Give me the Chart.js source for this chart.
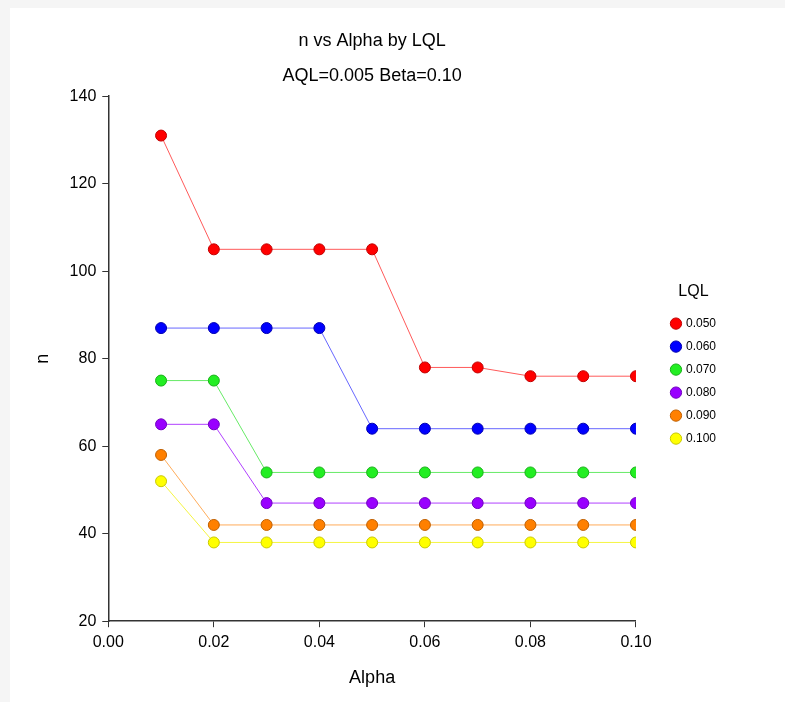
<!DOCTYPE html>
<html>
<head>
<meta charset="utf-8">
<script src="https://cdn.jsdelivr.net/npm/chart.js@4/dist/chart.umd.min.js"></script>
<style>
  html, body { margin: 0; padding: 0; background: #f5f5f5; }
  #panel { position: absolute; left: 10px; top: 8px; width: 775px; height: 694px; background: #fff; }
</style>
</head>
<body>
<div id="panel"><canvas id="myChart" width="775" height="694"></canvas></div>
<script>
const alphas = [0.01, 0.02, 0.03, 0.04, 0.05, 0.06, 0.07, 0.08, 0.09, 0.10];
const lqlLabels = ["0.050", "0.060", "0.070", "0.080", "0.090", "0.100"];
const n050 = [131, 105, 105, 105, 105, 78, 78, 76, 76, 76];
const n060 = [87, 87, 87, 87, 64, 64, 64, 64, 64, 64];
const n070 = [75, 75, 54, 54, 54, 54, 54, 54, 54, 54];
const n080 = [65, 65, 47, 47, 47, 47, 47, 47, 47, 47];
const n090 = [58, 42, 42, 42, 42, 42, 42, 42, 42, 42];
const n100 = [52, 38, 38, 38, 38, 38, 38, 38, 38, 38];
const seriesValues = [n050, n060, n070, n080, n090, n100];

const fills = ["#ff0000", "#0000ff", "#22ee22", "#9900ff", "#ff8000", "#ffff00"];
const edges = ["#c00000", "#0000b0", "#18b018", "#7000c0", "#c06000", "#c8c800"];
const lines = ["rgba(255,0,0,0.65)", "rgba(0,0,255,0.6)", "rgba(0,220,0,0.6)",
               "rgba(150,0,255,0.75)", "rgba(255,128,0,0.65)", "rgba(240,240,0,0.75)"];

const datasets = seriesValues.map(function (vals, i) {
  return {
    label: lqlLabels[i],
    data: vals.map(function (v, j) { return { x: alphas[j], y: v }; }),
    borderColor: lines[i],
    borderWidth: 1,
    pointBackgroundColor: fills[i],
    pointBorderColor: edges[i],
    pointBorderWidth: 1,
    pointRadius: 5.5,
    pointStyle: "circle",
    tension: 0
  };
});

// nudge the legend right and down
const shiftLegend = {
  id: "shiftLegend",
  afterLayout: function (chart) {
    if (chart.legend) {
      chart.legend.left += 25;
      chart.legend.right += 25;
      chart.legend.top += 14;
      chart.legend.bottom += 14;
    }
  }
};

const font = "Arial, 'Liberation Sans', sans-serif";
const ctx = document.getElementById("myChart");
const myChart = new Chart(ctx, {
  type: "line",
  data: { datasets: datasets },
  plugins: [shiftLegend],
  options: {
    responsive: false,
    animation: false,
    layout: { padding: { left: 10, right: 84, top: 10, bottom: 9 } },
    plugins: {
      title: {
        display: true, text: "n vs Alpha by LQL", color: "#000", fullSize: false,
        font: { family: font, size: 18, weight: "normal" },
        padding: { top: 12, bottom: 8 }
      },
      subtitle: {
        display: true, text: "AQL=0.005 Beta=0.10", color: "#000", fullSize: false,
        font: { family: font, size: 18, weight: "normal" },
        padding: { top: 6, bottom: 9 }
      },
      legend: {
        position: "right",
        align: "center",
        title: { display: true, text: "LQL", color: "#000", font: { family: font, size: 16 }, padding: { top: 0, bottom: 4 } },
        labels: {
          usePointStyle: true, boxWidth: 8, boxHeight: 8, padding: 11,
          color: "#000", font: { family: font, size: 12 }
        }
      },
      tooltip: { enabled: false }
    },
    scales: {
      x: {
        type: "linear", min: 0, max: 0.1,
        grid: { drawOnChartArea: false, tickLength: 6, color: "#333" },
        border: { color: "#333", width: 1.5 },
        ticks: {
          stepSize: 0.02, padding: 6, color: "#000",
          font: { family: font, size: 16 },
          callback: function (v) { return v.toFixed(2); }
        },
        title: { display: true, text: "Alpha", color: "#000", font: { family: font, size: 18 }, padding: { top: 9, bottom: 4 } }
      },
      y: {
        min: 20, max: 140,
        grid: { drawOnChartArea: false, tickLength: 6, color: "#333" },
        border: { color: "#333", width: 1.5 },
        ticks: { stepSize: 20, padding: 6, color: "#000", font: { family: font, size: 16 } },
        title: { display: true, text: "n", color: "#000", font: { family: font, size: 18 }, padding: { top: 12, bottom: 10 } }
      }
    }
  }
});
</script>
</body>
</html>
